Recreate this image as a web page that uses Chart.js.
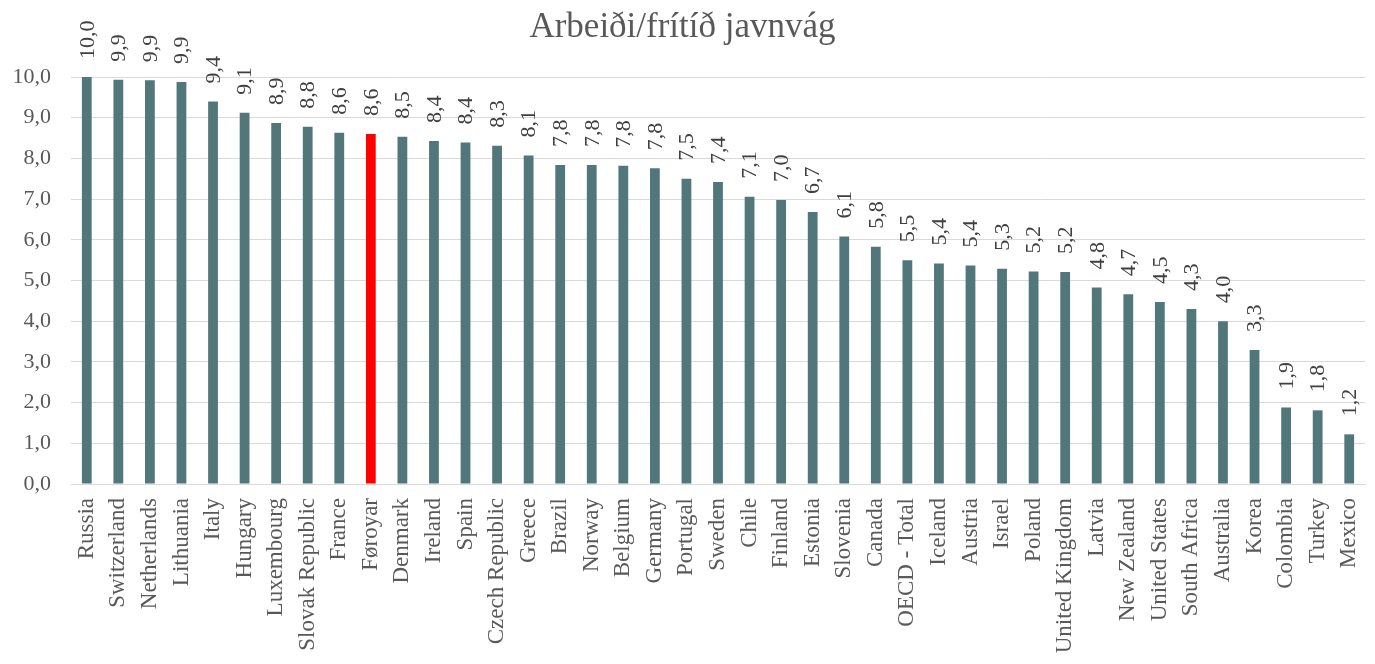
<!DOCTYPE html>
<html>
<head>
<meta charset="utf-8">
<script src="https://cdn.jsdelivr.net/npm/chart.js@4/dist/chart.umd.min.js"></script>
<style>
html,body{margin:0;padding:0;background:#fff;}
#wrap{width:1375px;height:664px;position:relative;}
</style>
</head>
<body>
<div id="wrap"><canvas id="c"></canvas></div>
<script>
const titleText = "Arbeiði/frítíð javnvág";
const categories = ["Russia","Switzerland","Netherlands","Lithuania","Italy","Hungary","Luxembourg","Slovak Republic","France","Føroyar","Denmark","Ireland","Spain","Czech Republic","Greece","Brazil","Norway","Belgium","Germany","Portugal","Sweden","Chile","Finland","Estonia","Slovenia","Canada","OECD - Total","Iceland","Austria","Israel","Poland","United Kingdom","Latvia","New Zealand","United States","South Africa","Australia","Korea","Colombia","Turkey","Mexico"];
const values = [10.0,9.93,9.92,9.88,9.4,9.12,8.87,8.78,8.63,8.6,8.53,8.43,8.39,8.31,8.07,7.84,7.84,7.82,7.76,7.5,7.42,7.06,6.98,6.68,6.08,5.83,5.5,5.42,5.37,5.29,5.22,5.21,4.83,4.66,4.47,4.3,4.0,3.29,1.88,1.81,1.22];
const highlight = "Føroyar";
const yTicks = [0,1,2,3,4,5,6,7,8,9,10];

const BAR = "#52777a", HL = "#ff0000";
const SERIF = "'Liberation Serif','Times New Roman',serif";
const fmt = v => v.toFixed(1).replace('.', ',');

const labelPlugin = {
  id: 'vlabels',
  afterDatasetsDraw(chart) {
    const ctx = chart.ctx;
    const meta = chart.getDatasetMeta(0);
    ctx.save();
    ctx.font = "22px " + SERIF;
    ctx.fillStyle = "#404040";
    ctx.textAlign = "left";
    ctx.textBaseline = "middle";
    meta.data.forEach((bar, i) => {
      ctx.save();
      ctx.translate(bar.x + 1, bar.y - 18);
      ctx.rotate(-Math.PI / 2);
      ctx.fillText(fmt(values[i]), 0, 0);
      ctx.restore();
    });
    ctx.restore();
  }
};

new Chart(document.getElementById('c'), {
  type: 'bar',
  data: {
    labels: categories,
    datasets: [{
      data: values,
      backgroundColor: categories.map(c => c === highlight ? HL : BAR),
      categoryPercentage: 1,
      barPercentage: 0.31
    }]
  },
  options: {
    responsive: true,
    maintainAspectRatio: false,
    animation: false,
    layout: { padding: { left: 0, right: 10, top: 0, bottom: 0 } },
    plugins: {
      legend: { display: false },
      tooltip: { enabled: false },
      title: {
        display: true,
        text: titleText,
        color: "#595959",
        font: { family: SERIF, size: 35, weight: 'normal' },
        padding: { top: 7, bottom: 28 }
      }
    },
    scales: {
      x: {
        grid: { display: false, drawTicks: false },
        border: { display: true, color: "#d9d9d9", width: 1 },
        ticks: {
          color: "#595959",
          font: { family: SERIF, size: 23 },
          minRotation: 90, maxRotation: 90,
          autoSkip: false,
          padding: 14
        },
        afterFit(scale) { scale.height = 180; scale.paddingLeft = 0; scale.paddingRight = 0; }
      },
      y: {
        min: 0, max: 10,
        afterBuildTicks(scale) { scale.ticks = yTicks.map(v => ({ value: v })); },
        grid: { color: "#d9d9d9", lineWidth: 1, drawTicks: false },
        border: { display: false },
        ticks: {
          color: "#595959",
          font: { family: SERIF, size: 22 },
          padding: 20,
          callback: v => fmt(v)
        },
        afterFit(scale) { scale.width = 71; scale.paddingTop = 0; scale.paddingBottom = 0; }
      }
    }
  },
  plugins: [labelPlugin]
});
</script>
</body>
</html>
